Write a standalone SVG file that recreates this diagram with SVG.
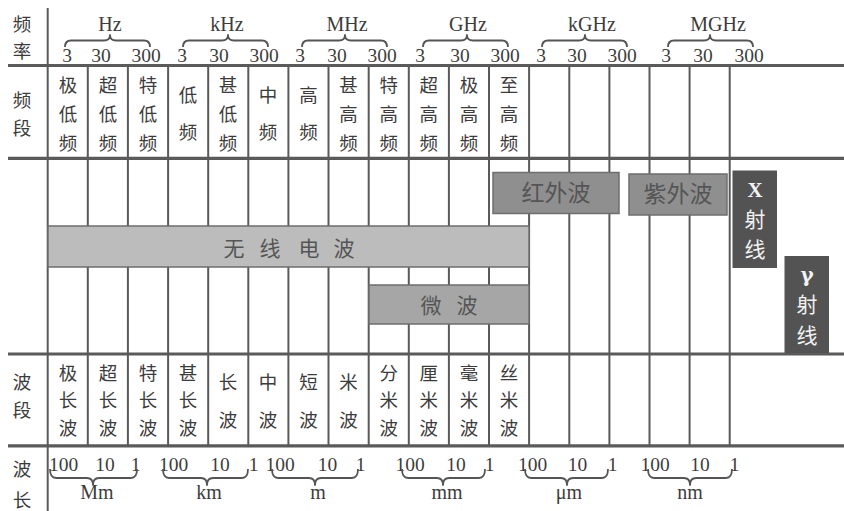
<svg xmlns="http://www.w3.org/2000/svg" width="844" height="511" viewBox="0 0 844 511">
<style>
.grid{stroke:#5a5a5a;stroke-width:2;fill:none}
.thick{stroke:#5a5a5a;stroke-width:3.2;fill:none}
.brace{stroke:#555;stroke-width:1.8;fill:none;stroke-linejoin:round}
.cj{font-family:"Noto Sans CJK SC","Noto Sans CJK JP",sans-serif;font-size:18.5px;fill:#3c3c3c;text-anchor:middle}
.num{font-family:"Liberation Serif",serif;font-size:19.5px;fill:#3c3c3c;text-anchor:middle}
.unit{font-family:"Liberation Serif",serif;font-size:20px;fill:#3c3c3c;text-anchor:middle}
.bar{stroke:#6e6e6e;stroke-width:1.5}
.bt{font-family:"Noto Sans CJK SC","Noto Sans CJK JP",sans-serif;fill:#555;text-anchor:middle}
.wt{font-family:"Noto Sans CJK SC","Noto Sans CJK JP",sans-serif;fill:#f2f2f2;text-anchor:middle;font-size:21px}
</style>
<rect width="844" height="511" fill="#ffffff"/>

<g id="grid">
<line class="grid" x1="47.7" y1="8" x2="47.7" y2="511"/>
<line class="grid" x1="87.8" y1="65" x2="87.8" y2="446"/>
<line class="grid" x1="127.9" y1="65" x2="127.9" y2="446"/>
<line class="grid" x1="168.1" y1="65" x2="168.1" y2="446"/>
<line class="grid" x1="208.2" y1="65" x2="208.2" y2="446"/>
<line class="grid" x1="248.3" y1="65" x2="248.3" y2="446"/>
<line class="grid" x1="288.4" y1="65" x2="288.4" y2="446"/>
<line class="grid" x1="328.5" y1="65" x2="328.5" y2="446"/>
<line class="grid" x1="368.7" y1="65" x2="368.7" y2="446"/>
<line class="grid" x1="408.8" y1="65" x2="408.8" y2="446"/>
<line class="grid" x1="448.9" y1="65" x2="448.9" y2="446"/>
<line class="grid" x1="489.0" y1="65" x2="489.0" y2="446"/>
<line class="grid" x1="529.1" y1="65" x2="529.1" y2="446"/>
<line class="grid" x1="569.3" y1="65" x2="569.3" y2="446"/>
<line class="grid" x1="609.4" y1="65" x2="609.4" y2="446"/>
<line class="grid" x1="649.5" y1="65" x2="649.5" y2="446"/>
<line class="grid" x1="689.6" y1="65" x2="689.6" y2="446"/>
<line class="grid" x1="729.7" y1="65" x2="729.7" y2="446"/>
<line class="thick" x1="8" y1="65.5" x2="844" y2="65.5"/>
<line class="thick" x1="8" y1="158.3" x2="844" y2="158.3"/>
<line class="thick" x1="8" y1="354" x2="844" y2="354"/>
<line class="thick" x1="8" y1="445.8" x2="844" y2="445.8"/>
</g>

<g id="row-labels" class="cj">
<text x="22" y="31">频</text><text x="22" y="58">率</text>
<text x="22" y="107">频</text><text x="22" y="135">段</text>
<text x="22" y="389">波</text><text x="22" y="417">段</text>
<text x="22" y="476">波</text><text x="22" y="507">长</text>
</g>

<g id="freq-scale">
<g class="unit">
<text x="110" y="31">Hz</text><text x="227" y="31">kHz</text><text x="347" y="31">MHz</text>
<text x="468" y="31">GHz</text><text x="592" y="31">kGHz</text><text x="718" y="31">MGHz</text>
</g>
<g class="num">
<text x="67" y="62">3</text><text x="101" y="62">30</text><text x="146" y="62">300</text>
<text x="182" y="62">3</text><text x="219" y="62">30</text><text x="264" y="62">300</text>
<text x="300" y="62">3</text><text x="337" y="62">30</text><text x="382" y="62">300</text>
<text x="420" y="62">3</text><text x="460" y="62">30</text><text x="505" y="62">300</text>
<text x="541" y="62">3</text><text x="577" y="62">30</text><text x="622" y="62">300</text>
<text x="666" y="62">3</text><text x="703" y="62">30</text><text x="749" y="62">300</text>
</g>
<g class="brace">
<path d="M65,47 Q65,40.5 71,40.5 L104,40.5 Q110,40.5 110,35 Q110,40.5 116,40.5 L144,40.5 Q150,40.5 150,47"/>
<path d="M183,47 Q183,40.5 189,40.5 L222,40.5 Q228,40.5 228,35 Q228,40.5 234,40.5 L262,40.5 Q268,40.5 268,47"/>
<path d="M302,47 Q302,40.5 308,40.5 L339,40.5 Q345,40.5 345,35 Q345,40.5 351,40.5 L381,40.5 Q387,40.5 387,47"/>
<path d="M423,47 Q423,40.5 429,40.5 L461,40.5 Q467,40.5 467,35 Q467,40.5 473,40.5 L502,40.5 Q508,40.5 508,47"/>
<path d="M542,47 Q542,40.5 548,40.5 L579,40.5 Q585,40.5 585,35 Q585,40.5 591,40.5 L621,40.5 Q627,40.5 627,47"/>
<path d="M668,47 Q668,40.5 674,40.5 L704,40.5 Q710,40.5 710,35 Q710,40.5 716,40.5 L747,40.5 Q753,40.5 753,47"/>
</g>
</g>

<g id="freq-bands" class="cj">
<text x="68" y="92">极</text><text x="68" y="121">低</text><text x="68" y="150">频</text>
<text x="108" y="92">超</text><text x="108" y="121">低</text><text x="108" y="150">频</text>
<text x="148" y="92">特</text><text x="148" y="121">低</text><text x="148" y="150">频</text>
<text x="188" y="102">低</text><text x="188" y="139">频</text>
<text x="228" y="92">甚</text><text x="228" y="121">低</text><text x="228" y="150">频</text>
<text x="268" y="102">中</text><text x="268" y="139">频</text>
<text x="308.5" y="102">高</text><text x="308.5" y="139">频</text>
<text x="348.6" y="92">甚</text><text x="348.6" y="121">高</text><text x="348.6" y="150">频</text>
<text x="388.7" y="92">特</text><text x="388.7" y="121">高</text><text x="388.7" y="150">频</text>
<text x="428.8" y="92">超</text><text x="428.8" y="121">高</text><text x="428.8" y="150">频</text>
<text x="468.9" y="92">极</text><text x="468.9" y="121">高</text><text x="468.9" y="150">频</text>
<text x="509" y="92">至</text><text x="509" y="121">高</text><text x="509" y="150">频</text>
</g>

<g id="radio-wave">
<rect class="bar" x="48" y="226" width="481" height="41" fill="#bcbcbc" stroke="#858585"/>
<text class="bt" font-size="21" y="256"><tspan x="234">无</tspan><tspan x="270">线</tspan><tspan x="309">电</tspan><tspan x="344">波</tspan></text>
</g>
<g id="microwave">
<rect class="bar" x="369" y="285" width="160" height="39" fill="#a6a6a6"/>
<text class="bt" font-size="21" y="313"><tspan x="431">微</tspan><tspan x="467">波</tspan></text>
</g>
<g id="infrared">
<rect class="bar" x="493" y="172.5" width="126" height="41" fill="#8f8f8f" stroke="#666"/>
<text class="bt" font-size="23" x="556" y="201" fill="#5a5a5a">红外波</text>
</g>
<g id="ultraviolet">
<rect class="bar" x="629" y="174" width="98" height="41" fill="#8f8f8f" stroke="#666"/>
<text class="bt" font-size="23" x="678" y="202" fill="#5a5a5a">紫外波</text>
</g>
<g id="x-ray">
<rect x="732.5" y="170.5" width="44.5" height="97.5" fill="#535353"/>
<text x="755" y="197" font-family="Liberation Serif,serif" font-weight="bold" font-size="21" fill="#f2f2f2" text-anchor="middle">X</text>
<text class="wt" x="755" y="227">射</text>
<text class="wt" x="755" y="257">线</text>
</g>
<g id="gamma-ray">
<rect x="784.5" y="256" width="44.5" height="97" fill="#535353"/>
<text x="807" y="282" font-family="DejaVu Serif,serif" font-weight="bold" font-size="20" fill="#f2f2f2" text-anchor="middle">γ</text>
<text class="wt" x="807" y="312">射</text>
<text class="wt" x="807" y="343">线</text>
</g>

<g id="wave-bands" class="cj">
<text x="68" y="380">极</text><text x="68" y="407">长</text><text x="68" y="435">波</text>
<text x="108" y="380">超</text><text x="108" y="407">长</text><text x="108" y="435">波</text>
<text x="148" y="380">特</text><text x="148" y="407">长</text><text x="148" y="435">波</text>
<text x="188" y="380">甚</text><text x="188" y="407">长</text><text x="188" y="435">波</text>
<text x="228" y="389">长</text><text x="228" y="427">波</text>
<text x="268" y="389">中</text><text x="268" y="427">波</text>
<text x="308.5" y="389">短</text><text x="308.5" y="427">波</text>
<text x="348.6" y="389">米</text><text x="348.6" y="427">波</text>
<text x="388.7" y="380">分</text><text x="388.7" y="407">米</text><text x="388.7" y="435">波</text>
<text x="428.8" y="380">厘</text><text x="428.8" y="407">米</text><text x="428.8" y="435">波</text>
<text x="468.9" y="380">毫</text><text x="468.9" y="407">米</text><text x="468.9" y="435">波</text>
<text x="509" y="380">丝</text><text x="509" y="407">米</text><text x="509" y="435">波</text>
</g>

<g id="wavelength-scale">
<g class="num">
<text x="63.5" y="471">100</text><text x="105" y="471">10</text><text x="135.5" y="471">1</text>
<text x="173.5" y="471">100</text><text x="220" y="471">10</text><text x="253.5" y="471">1</text>
<text x="280" y="471">100</text><text x="327.5" y="471">10</text><text x="360.5" y="471">1</text>
<text x="410" y="471">100</text><text x="456" y="471">10</text><text x="489.5" y="471">1</text>
<text x="532.5" y="471">100</text><text x="577.5" y="471">10</text><text x="612.5" y="471">1</text>
<text x="655" y="471">100</text><text x="700" y="471">10</text><text x="734.5" y="471">1</text>
</g>
<g class="brace">
<path d="M50,469 Q50,478 56,478 L87,478 Q93,478 93,485 Q93,478 99,478 L131,478 Q137,478 137,469"/>
<path d="M163,469 Q163,478 169,478 L201,478 Q207,478 207,485 Q207,478 213,478 L242,478 Q248,478 248,469"/>
<path d="M272,469 Q272,478 278,478 L309,478 Q315,478 315,485 Q315,478 321,478 L352,478 Q358,478 358,469"/>
<path d="M402,469 Q402,478 408,478 L437,478 Q443,478 443,485 Q443,478 449,478 L479,478 Q485,478 485,469"/>
<path d="M525,469 Q525,478 531,478 L561,478 Q567,478 567,485 Q567,478 573,478 L602,478 Q608,478 608,469"/>
<path d="M648,469 Q648,478 654,478 L684,478 Q690,478 690,485 Q690,478 696,478 L726,478 Q732,478 732,469"/>
</g>
<g class="unit">
<text x="97" y="499">Mm</text><text x="209" y="499">km</text><text x="318" y="499">m</text>
<text x="447" y="499">mm</text><text x="569" y="499">μm</text><text x="690" y="499">nm</text>
</g>
</g>
</svg>
